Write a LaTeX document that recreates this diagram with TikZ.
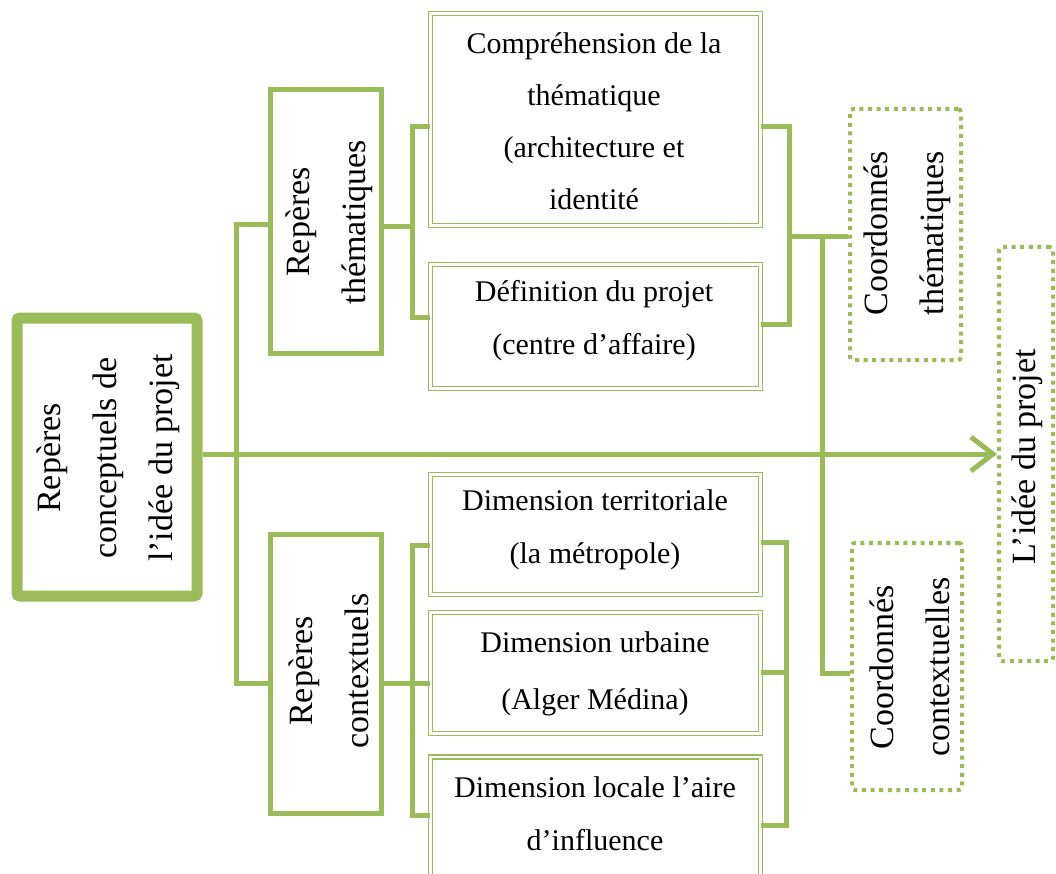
\documentclass[tikz,border=0pt]{standalone}
\usepackage{fontspec}
\setmainfont{Liberation Serif}
\usetikzlibrary{arrows.meta}
\definecolor{og}{HTML}{9BBB59}
\begin{document}
\begin{tikzpicture}[x=1pt,y=-1pt,
  conn/.style={draw=og,line width=5pt},
  mainbox/.style={draw=og,line width=11pt,rounded corners=3pt,fill=white,inner sep=0pt},
  repbox/.style={draw=og,line width=5pt,fill=white,inner sep=0pt},
  dblbox/.style={draw=og,double=white,double distance=2.5pt,line width=1.3pt,fill=white,inner sep=0pt},
  dotbox/.style={draw=og,line width=4pt,dash pattern=on 4pt off 4.6pt,rounded corners=3pt,fill=white,inner sep=0pt},
  htext/.style={font=\fontsize{30}{53}\selectfont,align=center,inner sep=0pt},
  vtext/.style={font=\fontsize{34}{56}\selectfont,align=center,rotate=90,inner sep=0pt},
]
\useasboundingbox (0,0) rectangle (1056,874);

% ---------- boxes (geometry) ----------
\path
  (107,457)    coordinate (mainc)
  (325.5,221.5) coordinate (thmc)
  (325.5,673.5) coordinate (ctxc)
  (595.5,119.5) coordinate (compc)
  (595.5,326.5) coordinate (defc)
  (595.5,534.5) coordinate (dimtc)
  (595.5,673)   coordinate (dimuc)
  (595.5,828)   coordinate (dimlc)
  (905.5,234.5) coordinate (cthmc)
  (907,666.5)   coordinate (cctxc)
  (1026,454)    coordinate (ideec);

% ---------- connector turning points ----------
\coordinate (lb1) at (236,225);
\coordinate (lb2) at (236,683);
\coordinate (tb1) at (412,127);
\coordinate (tbm) at (412,227);
\coordinate (tb2) at (412,317);
\coordinate (rb1) at (789,127);
\coordinate (rbm) at (789,237);
\coordinate (rb2) at (789,324);
\coordinate (cv1) at (822,237);
\coordinate (cv2) at (822,673);
\coordinate (cb1) at (412,545);
\coordinate (cbm) at (412,683);
\coordinate (cb2) at (412,815);
\coordinate (db1) at (786,542);
\coordinate (dbm) at (786,672);
\coordinate (db2) at (786,825);

\node[mainbox,minimum width=180pt,minimum height=278pt] (main) at (mainc) {};
\node[repbox,minimum width=111pt,minimum height=263pt] (thm) at (thmc) {};
\node[repbox,minimum width=111pt,minimum height=279pt] (ctx) at (ctxc) {};
\node[dblbox,minimum width=330pt,minimum height=212pt] (comp) at (compc) {};
\node[dblbox,minimum width=330pt,minimum height=124pt] (def) at (defc) {};
\node[dblbox,minimum width=330pt,minimum height=120pt] (dimt) at (dimtc) {};
\node[dblbox,minimum width=330pt,minimum height=121pt] (dimu) at (dimuc) {};
\node[dblbox,minimum width=330pt,minimum height=142pt] (diml) at (dimlc) {};
\node[dotbox,minimum width=111pt,minimum height=251pt] (cthm) at (cthmc) {};
\node[dotbox,minimum width=110pt,minimum height=247pt] (cctx) at (cctxc) {};
\node[dotbox,minimum width=54pt,minimum height=414pt] (idee) at (ideec) {};

% ---------- connectors ----------
\begin{scope}[on background layer/.style={}]
\end{scope}
\draw[conn,-{Straight Barb[length=22pt,width=34pt]}] (main.east |- idee.west) -- (idee.west);
\draw[conn] (thm.west |- lb1) -- (lb1) -- (lb2) -- (ctx.west |- lb2);
\draw[conn] (comp.west |- tb1) -- (tb1) -- (tb2) -- (def.west |- tb2);
\draw[conn] (thm.east |- tbm) -- (tbm);
\draw[conn] (comp.east |- rb1) -- (rb1) -- (rb2) -- (def.east |- rb2);
\draw[conn] (rbm) -- (cthm.west |- rbm);
\draw[conn] (cv1) -- (cv2) -- (cctx.west |- cv2);
\draw[conn] (dimt.west |- cb1) -- (cb1) -- (cb2) -- (diml.west |- cb2);
\draw[conn] (ctx.east |- cbm) -- (dimu.west |- cbm);
\draw[conn] (dimt.east |- db1) -- (db1) -- (db2) -- (diml.east |- db2);
\draw[conn] (dimu.east |- dbm) -- (dbm);

% ---------- texts ----------
\node[vtext] (mainT) at (108,458) {Repères\\conceptuels de\\l’idée du projet};
\node[vtext] (thmT) at (329,222) {Repères\\thématiques};
\node[vtext] (ctxT) at (329,671) {Repères\\contextuels};
\node[htext,font=\fontsize{30}{52}\selectfont] (compT) at (594,121) {Compréhension de la\\thématique\\(architecture et\\identité};
\node[htext] (defT) at (594,321) {Définition du projet\\(centre d’affaire)};
\node[htext] (dimtT) at (595,530) {Dimension territoriale\\(la métropole)};
\node[htext,font=\fontsize{30}{57}\selectfont] (dimuT) at (595,674) {Dimension urbaine\\(Alger Médina)};
\node[htext] (dimlT) at (595,814) {Dimension locale l’aire\\d’influence};
\node[vtext] (cthmT) at (907,233) {Coordonnés\\thématiques};
\node[vtext] (cctxT) at (910,667) {Coordonnés\\contextuelles};
\node[vtext] (ideeT) at (1027,457) {L’idée du projet};
\end{tikzpicture}
\end{document}
